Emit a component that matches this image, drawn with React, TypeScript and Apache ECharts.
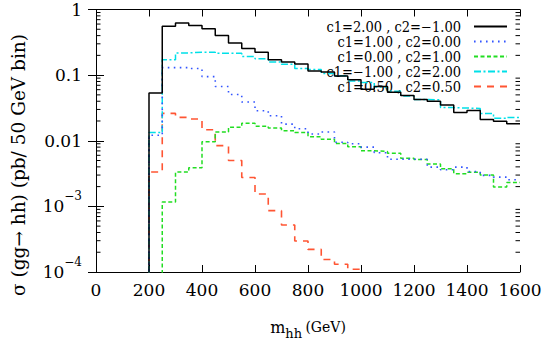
import React, { useEffect, useRef } from "react";
import * as echarts from "echarts";

// Left edges of the 50 GeV bins (GeV); histogram ends at 1600
const binLeftEdges = [
  200, 250, 300, 350, 400, 450, 500, 550, 600, 650, 700, 750, 800, 850,
  900, 950, 1000, 1050, 1100, 1150, 1200, 1250, 1300, 1350, 1400, 1450, 1500, 1550,
];
const histEnd = 1600;

const seriesNames = [
  "c1=2.00 , c2=\u22121.00",
  "c1=1.00 , c2=0.00",
  "c1=0.00 , c2=1.00",
  "c1=\u22121.00 , c2=2.00",
  "c1=0.50 , c2=0.50",
];

// sigma per bin (pb / 50 GeV bin)
const sigmaC1m2p00 = [
  0.0535, 0.555, 0.62, 0.57, 0.51, 0.4, 0.31, 0.255, 0.223, 0.171, 0.158, 0.148, 0.116, 0.112,
  0.097, 0.085, 0.061, 0.067, 0.055, 0.049, 0.0426, 0.04, 0.035, 0.027, 0.029, 0.021, 0.0198, 0.0181,
];
const sigmaC1p1p00 = [
  0.0121, 0.13, 0.13, 0.126, 0.095, 0.067, 0.0506, 0.0389, 0.0286, 0.0241, 0.0179, 0.0152, 0.0127, 0.0136,
  0.0095, 0.009, 0.008, 0.00656, 0.00522, 0.00522, 0.00522, 0.00397, 0.00361, 0.00397, 0.0034, 0.00297, 0.00279, 0.00254,
];
const sigmaC1p0p00 = [
  null, 0.00117, 0.00334, 0.00388, 0.00966, 0.0136, 0.0161, 0.0185, 0.0167, 0.0156, 0.0142, 0.0133, 0.0115, 0.0105,
  0.0091, 0.0081, 0.00703, 0.00686, 0.00647, 0.0054, 0.0052, 0.00443, 0.00374, 0.00315, 0.00331, 0.003, 0.00197, 0.00232,
];
const sigmaC1m1p00 = [
  0.0133, 0.171, 0.218, 0.223, 0.223, 0.215, 0.215, 0.192, 0.177, 0.158, 0.146, 0.126, 0.122, 0.106,
  0.098, 0.0816, 0.077, 0.066, 0.057, 0.048, 0.0425, 0.042, 0.032, 0.0315, 0.031, 0.026, 0.022, 0.0226,
];
const sigmaC1p0p50 = [
  0.00334, 0.0261, 0.0227, 0.0215, 0.0147, 0.00843, 0.00499, 0.00275, 0.00154, 0.00086, 0.00052, 0.000297, 0.000221, 0.000155,
  0.000131, 0.00011, null, null, null, null, null, null, null, null, null, null, null, null,
];

const minorTickValues = [
  2e-4, 3e-4, 4e-4, 5e-4, 6e-4, 7e-4, 8e-4, 9e-4,
  2e-3, 3e-3, 4e-3, 5e-3, 6e-3, 7e-3, 8e-3, 9e-3,
  0.02, 0.03, 0.04, 0.05, 0.06, 0.07, 0.08, 0.09,
  0.2, 0.3, 0.4, 0.5, 0.6, 0.7, 0.8, 0.9,
];

const FLOOR = 1e-7; // below the axis minimum: lets vertical edges reach the frame, then clipped

function stepPoints(values: (number | null)[]) {
  const pts: [number, number][] = [];
  const first = values.findIndex((v) => v != null);
  let last = first;
  for (let i = first; i < values.length && values[i] != null; i++) last = i;
  pts.push([binLeftEdges[first], FLOOR]);
  for (let i = first; i <= last; i++) pts.push([binLeftEdges[i], values[i] as number]);
  if (last === values.length - 1) pts.push([histEnd, values[last] as number]);
  else pts.push([binLeftEdges[last + 1], FLOOR]);
  return pts;
}

const FONT = "DejaVu Serif";
const FONT_L = "'DejaVu Serif Condensed', 'DejaVu Serif'";

export default function App() {
  const ref = useRef<HTMLDivElement>(null);
  useEffect(() => {
    if (!ref.current) return;
    const chart = echarts.init(ref.current, undefined, { renderer: "svg" });

    const styles = [
      { color: "#000000", width: 1.5, type: "solid" as any },
      { color: "#3355ff", width: 1.6, type: [1.6, 4.4] },
      { color: "#22dd22", width: 1.5, type: [4, 2.5] },
      { color: "#00e0e8", width: 1.5, type: [7, 2.5, 2, 2.5] },
      { color: "#ff5533", width: 1.6, type: [7, 6] },
    ];
    const allValues = [sigmaC1m2p00, sigmaC1p1p00, sigmaC1p0p00, sigmaC1m1p00, sigmaC1p0p50];

    const lineSeries = seriesNames.map((name, k) => ({
      type: "line",
      name,
      data: stepPoints(allValues[k]),
      step: "end",
      symbol: "none",
      showSymbol: false,
      clip: true,
      z: 10 - k,
      lineStyle: { color: styles[k].color, width: styles[k].width, type: styles[k].type },
      itemStyle: { color: styles[k].color },
    }));

    const minorTicks = {
      type: "custom",
      name: "minor",
      silent: true,
      clip: false,
      data: minorTickValues.map((v) => [0, v]),
      renderItem: (params: any, api: any) => {
        const v = api.value(1);
        const pL = api.coord([0, v]);
        const pR = api.coord([histEnd, v]);
        return {
          type: "group",
          children: [
            { type: "line", shape: { x1: pL[0], y1: pL[1], x2: pL[0] + 4.5, y2: pL[1] }, style: { stroke: "#000", lineWidth: 1 } },
            { type: "line", shape: { x1: pR[0] - 4.5, y1: pR[1], x2: pR[0], y2: pR[1] }, style: { stroke: "#000", lineWidth: 1 } },
          ],
        };
      },
    };

    const axisLine = { show: true, lineStyle: { color: "#000", width: 1 } };

    chart.setOption({
      animation: false,
      backgroundColor: "#ffffff",
      grid: { left: 96, right: 34, top: 9.5, bottom: 66.5, show: false },
      legend: {
        data: seriesNames,
        orient: "vertical",
        align: "right",
        right: 41,
        top: 14,
        itemWidth: 33,
        itemHeight: 12.75,
        itemGap: 0,
        selectedMode: false,
        itemStyle: { color: "transparent", borderWidth: 0, opacity: 0 },
        textStyle: { fontFamily: FONT_L, fontSize: 14.5, color: "#000", lineHeight: 12.75, padding: [0, 8, 0, 0] },
      },
      xAxis: [
        {
          type: "value",
          min: 0,
          max: histEnd,
          interval: 200,
          position: "bottom",
          axisLine,
          axisTick: { inside: true, length: 7, lineStyle: { color: "#000" } },
          axisLabel: { fontFamily: FONT, fontSize: 17, color: "#000", margin: 9, formatter: (v: number) => String(v) },
          splitLine: { show: false },
          name: "{m|m}{s|hh} {u|(GeV)}",
          nameLocation: "middle",
          nameGap: 43,
          nameTextStyle: {
            rich: {
              m: { fontFamily: FONT, fontSize: 16, color: "#000" },
              s: { fontFamily: FONT, fontSize: 13, color: "#000", padding: [12, 0, 0, 0] },
              u: { fontFamily: FONT, fontSize: 14, color: "#000", padding: [0, 0, 2, 0] },
            },
          },
        },
        {
          type: "value",
          min: 0,
          max: histEnd,
          interval: 200,
          position: "top",
          axisLine,
          axisTick: { inside: true, length: 7, lineStyle: { color: "#000" } },
          axisLabel: { show: false },
          splitLine: { show: false },
        },
      ],
      yAxis: [
        {
          type: "log",
          logBase: 10,
          min: 1e-4,
          max: 1,
          position: "left",
          axisLine,
          axisTick: { inside: true, length: 8, lineStyle: { color: "#000" } },
          axisLabel: {
            margin: 14,
            formatter: (v: number) => {
              const e = Math.round(Math.log10(v));
              if (e >= -2) return "{b|" + ["1", "0.1", "0.01"][-e] + "}";
              return "{b|10}{s|\u2212" + -e + "}";
            },
            rich: {
              b: { fontFamily: FONT, fontSize: 17, color: "#000" },
              s: { fontFamily: FONT, fontSize: 12, color: "#000", padding: [0, 0, 20, 0] },
            },
          },
          splitLine: { show: false },
        },
        {
          type: "log",
          logBase: 10,
          min: 1e-4,
          max: 1,
          position: "right",
          axisLine,
          axisTick: { inside: true, length: 8, lineStyle: { color: "#000" } },
          axisLabel: { show: false },
          splitLine: { show: false },
        },
      ],
      graphic: [
        {
          type: "text",
          x: 18,
          y: 165,
          rotation: Math.PI / 2,
          style: {
            text: "\u03c3 (gg\u2192 hh) (pb/ 50 GeV bin)",
            fontFamily: FONT,
            fontSize: 18.5,
            fill: "#000",
            align: "center",
            verticalAlign: "middle",
          },
        },
      ],
      series: [...lineSeries, minorTicks],
    });
    return () => chart.dispose();
  }, []);
  return (
    <div
      ref={ref}
      style={{ position: "absolute", left: 0, top: 0, width: 554, height: 345, background: "#fff" }}
    />
  );
}
